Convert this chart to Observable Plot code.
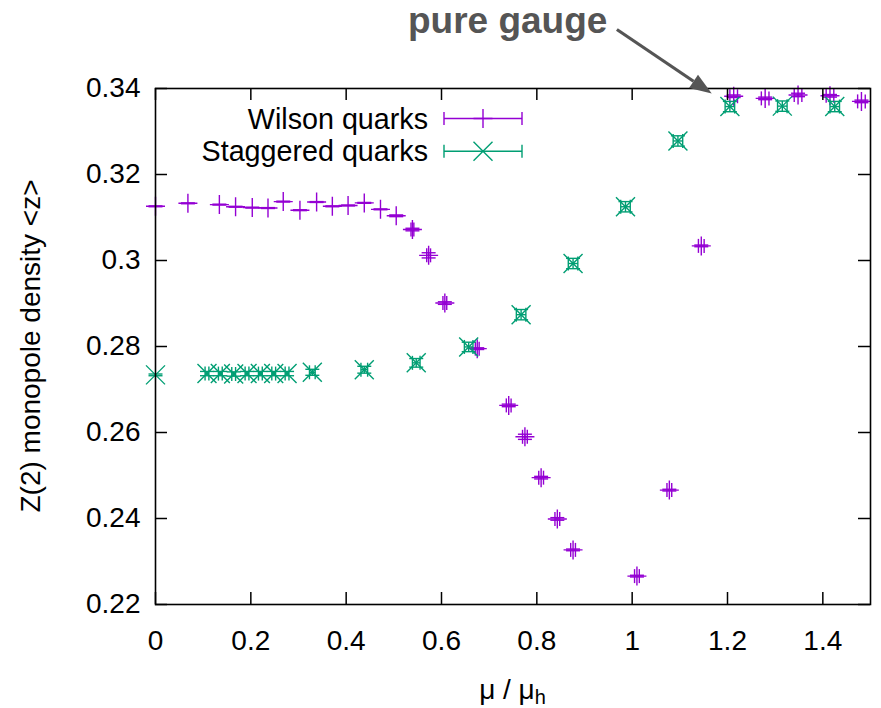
<!DOCTYPE html>
<html><head><meta charset="utf-8">
<script src="https://cdn.jsdelivr.net/npm/d3@7"></script>
<script src="https://cdn.jsdelivr.net/npm/@observablehq/plot@0.6"></script>
<style>html,body{margin:0;padding:0;background:#fff}</style>
</head><body><div id="chart"></div>
<script>
// ---- data ----
const wilsonMu = [0, 0.068, 0.134, 0.168, 0.203, 0.236, 0.268, 0.303, 0.338, 0.371, 0.404, 0.438, 0.472, 0.505, 0.539, 0.573, 0.607, 0.675, 0.741, 0.775, 0.809, 0.843, 0.876, 1.010, 1.078, 1.145, 1.213, 1.279, 1.348, 1.415, 1.481];
const wilsonZ = [0.3126, 0.3133, 0.3130, 0.3125, 0.3123, 0.3122, 0.3137, 0.3117, 0.3136, 0.3126, 0.3128, 0.3134, 0.3119, 0.3104, 0.3072, 0.3012, 0.2901, 0.2795, 0.2663, 0.2590, 0.2495, 0.2399, 0.2327, 0.2266, 0.2466, 0.3034, 0.3382, 0.3377, 0.3385, 0.3383, 0.3370];
const wilsonMuErr = [0, 0, 0, 0, 0, 0, 0, 0, 0, 0, 0, 0, 0, 0, 0.003, 0.004, 0.004, 0.004, 0.005, 0.005, 0.005, 0.005, 0.005, 0.005, 0.005, 0.006, 0.008, 0.008, 0.008, 0.008, 0.008];
const wilsonZErr = [0.0001, 0.0001, 0.0001, 0.0001, 0.0001, 0.0001, 0.0001, 0.0001, 0.0001, 0.0001, 0.0001, 0.0001, 0.0001, 0.0002, 0.0003, 0.0006, 0.0003, 0.0002, 0.0003, 0.0006, 0.0003, 0.0003, 0.0002, 0.0002, 0.0002, 0.0002, 0.0003, 0.0003, 0.0004, 0.0003, 0.0003];

const staggeredMu = [0, 0.108, 0.136, 0.164, 0.192, 0.220, 0.248, 0.276, 0.329, 0.438, 0.547, 0.657, 0.767, 0.876, 0.986, 1.096, 1.205, 1.315, 1.425];
const staggeredZ = [0.2734, 0.2737, 0.2737, 0.2736, 0.2737, 0.2737, 0.2737, 0.2737, 0.2740, 0.2746, 0.2762, 0.2799, 0.2874, 0.2993, 0.3125, 0.3278, 0.3358, 0.3359, 0.3358];
const staggeredMuErr = [0, 0.004, 0.004, 0.004, 0.004, 0.004, 0.004, 0.004, 0.006, 0.007, 0.008, 0.009, 0.01, 0.01, 0.01, 0.01, 0.01, 0.01, 0.01];
const staggeredZErr = [0.0002, 0.0005, 0.0005, 0.0005, 0.0005, 0.0005, 0.0005, 0.0005, 0.0007, 0.0008, 0.001, 0.0011, 0.0012, 0.0012, 0.0012, 0.0012, 0.0012, 0.0012, 0.0012];

const seriesNames = ["Wilson quarks", "Staggered quarks"];
const seriesColors = ["#9400d3", "#009e73"];
const xTicks = [0, 0.2, 0.4, 0.6, 0.8, 1, 1.2, 1.4];
const yTicks = [0.22, 0.24, 0.26, 0.28, 0.30, 0.32, 0.34];
const xDomain = [0, 1.5];
const yDomain = [0.22, 0.34];
const xLabelMain = "μ / μ";
const xLabelSub = "h";
const yLabel = "Z(2) monopole density <z>";
const annotationText = "pure gauge";
const annotationTextAt = [0.948, 0.3529];
const annotationArrowFrom = [0.969, 0.3536];
const annotationArrowTo = [1.168, 0.3387];

// ---- build ----
const FONT = "'Liberation Sans', Arial, Helvetica, sans-serif";
const W = 881, H = 708, ML = 155, MR = 11, MT = 88, MB = 104;
const PW = W - ML - MR, PH = H - MT - MB;

const rows = (mu, z, dmu, dz) => mu.map((x, i) => ({x, y: z[i], dx: dmu[i], dy: dz[i]}));
const wilson = rows(wilsonMu, wilsonZ, wilsonMuErr, wilsonZErr);
const staggered = rows(staggeredMu, staggeredZ, staggeredMuErr, staggeredZErr);

const sym = (segs) => ({draw(ctx, size) {
  const r = Math.sqrt(size / Math.PI);
  for (const [a, b, c, d] of segs) { ctx.moveTo(a * r, b * r); ctx.lineTo(c * r, d * r); }
}});
const plusSym = sym([[-1, 0, 1, 0], [0, -1, 0, 1]]);
const timesSym = sym([[-1, -1, 1, 1], [-1, 1, 1, -1]]);
const vBar = sym([[0, -1, 0, 1]]);
const hBar = sym([[-1, 0, 1, 0]]);

const fmt = d => String(+(+d).toFixed(2));

function seriesMarks(D, color, symbol, r) {
  const sw = 1.4;
  const xe = D.filter(d => d.dx > 0);
  const ye = D.filter(d => d.dy > 0);
  return [
    Plot.link(xe, {x1: d => d.x - d.dx, x2: d => d.x + d.dx, y1: "y", y2: "y", stroke: color, strokeWidth: sw}),
    Plot.dot(xe.flatMap(d => [{x: d.x - d.dx, y: d.y}, {x: d.x + d.dx, y: d.y}]), {x: "x", y: "y", symbol: vBar, r: 7, stroke: color, strokeWidth: sw, fill: "none"}),
    Plot.link(ye, {x1: "x", x2: "x", y1: d => d.y - d.dy, y2: d => d.y + d.dy, stroke: color, strokeWidth: sw}),
    Plot.dot(ye.flatMap(d => [{x: d.x, y: d.y - d.dy}, {x: d.x, y: d.y + d.dy}]), {x: "x", y: "y", symbol: hBar, r: 7, stroke: color, strokeWidth: sw, fill: "none"}),
    Plot.dot(D, {x: "x", y: "y", symbol, r, stroke: color, strokeWidth: sw, fill: "none"})
  ];
}

const plot = Plot.plot({
  width: W, height: H,
  marginLeft: ML, marginRight: MR, marginTop: MT, marginBottom: MB,
  x: {domain: xDomain},
  y: {domain: yDomain},
  style: {fontFamily: FONT, fontSize: "28px", background: "#fff", color: "#000", overflow: "visible"},
  marks: [
    ...seriesMarks(wilson, seriesColors[0], plusSym, 9.5),
    ...seriesMarks(staggered, seriesColors[1], timesSym, 9.5),
    Plot.tickX(xTicks, {x: d => d, insetTop: PH - 12, stroke: "#000", strokeWidth: 1.5}),
    Plot.tickX(xTicks, {x: d => d, insetBottom: PH - 12, stroke: "#000", strokeWidth: 1.5}),
    Plot.tickY(yTicks, {y: d => d, insetRight: PW - 12, stroke: "#000", strokeWidth: 1.5}),
    Plot.tickY(yTicks, {y: d => d, insetLeft: PW - 12, stroke: "#000", strokeWidth: 1.5}),
    Plot.axisX({anchor: "bottom", ticks: xTicks, tickSize: 0, tickPadding: 26, tickFormat: fmt, label: null, fontSize: 28}),
    Plot.axisY({anchor: "left", ticks: yTicks, tickSize: 0, tickPadding: 15, tickFormat: fmt, label: null, fontSize: 28}),
    Plot.frame({stroke: "#000", strokeWidth: 1.6}),
    Plot.text([annotationText], {x: annotationTextAt[0], y: annotationTextAt[1], text: d => d, textAnchor: "end", lineAnchor: "bottom", fontSize: 37, fontWeight: "bold", fill: "#555"})
  ]
});
document.getElementById("chart").appendChild(plot);

const svg = d3.select(plot);
const sx = plot.scale("x"), sy = plot.scale("y");

// arrow (filled head) through the plot's scales
{
  const x1 = sx.apply(annotationArrowFrom[0]), y1 = sy.apply(annotationArrowFrom[1]);
  const x2 = sx.apply(annotationArrowTo[0]), y2 = sy.apply(annotationArrowTo[1]);
  const ang = Math.atan2(y2 - y1, x2 - x1), L = 22, Hw = 8;
  const bx = x2 - L * Math.cos(ang), by = y2 - L * Math.sin(ang);
  const g = svg.append("g");
  g.append("line").attr("x1", x1).attr("y1", y1).attr("x2", bx).attr("y2", by)
    .attr("stroke", "#555").attr("stroke-width", 3.2);
  const px = -Math.sin(ang), py = Math.cos(ang);
  g.append("path").attr("d", `M${x2},${y2}L${bx + Hw * px},${by + Hw * py}L${bx - Hw * px},${by - Hw * py}Z`)
    .attr("fill", "#555");
}

// axis titles
svg.append("text").attr("x", ML + PW / 2).attr("y", 699).attr("text-anchor", "middle")
  .attr("font-size", 28).attr("fill", "#000")
  .call(t => { t.append("tspan").text(xLabelMain); t.append("tspan").attr("font-size", 20).attr("dy", 5).text(xLabelSub); });
svg.append("text").attr("transform", `translate(40,${MT + PH / 2}) rotate(-90)`).attr("text-anchor", "middle")
  .attr("font-size", 28).attr("fill", "#000").text(yLabel);

// legend
seriesNames.forEach((name, i) => {
  const y = 118.5 + i * 32.7;
  const g = svg.append("g");
  g.append("text").attr("x", 428).attr("y", y).attr("dy", "0.35em").attr("text-anchor", "end")
    .attr("font-size", 28.7).attr("fill", "#000").text(name);
  const c = seriesColors[i];
  const s = g.append("g").attr("stroke", c).attr("stroke-width", 1.4).attr("fill", "none");
  s.append("path").attr("d", `M444,${y}H522M444,${y - 6.5}V${y + 6.5}M522,${y - 6.5}V${y + 6.5}`);
  const r = 9.5;
  s.append("path").attr("d", i === 0
    ? `M${483 - r},${y}H${483 + r}M483,${y - r}V${y + r}`
    : `M${483 - r},${y - r}L${483 + r},${y + r}M${483 - r},${y + r}L${483 + r},${y - r}`);
});
</script>
</body></html>
